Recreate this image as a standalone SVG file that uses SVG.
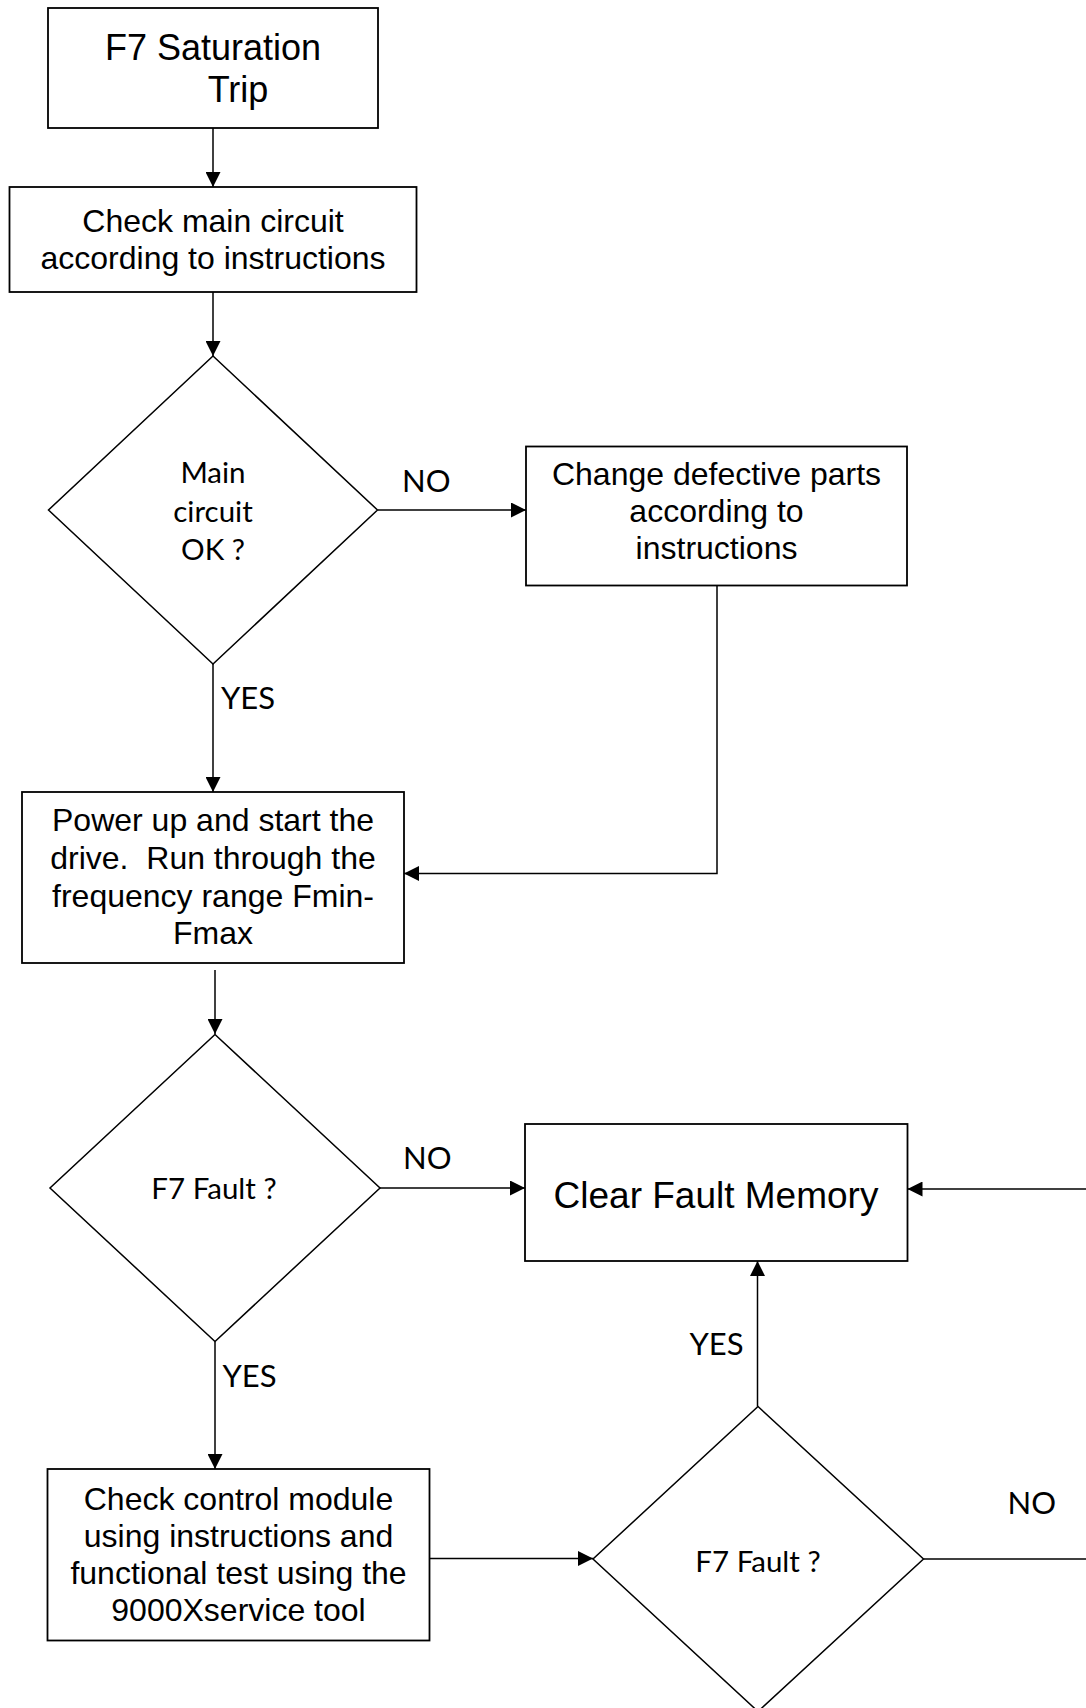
<svg xmlns="http://www.w3.org/2000/svg" width="1086" height="1708" viewBox="0 0 1086 1708">
  <style>
    .box { fill: #ffffff; stroke: #000000; stroke-width: 1.8; }
    .dia { fill: #ffffff; stroke: #000000; stroke-width: 1.5; }
    .conn { fill: none; stroke: #000000; stroke-width: 1.5; }
    .arr { marker-end: url(#arrow); }
    .t { font-family: "Liberation Sans", Arial, sans-serif; font-size: 32px; fill: #000000; text-anchor: middle; white-space: pre; }
    .c { font-family: Lato, "Open Sans", sans-serif; font-size: 29.5px; fill: #000000; text-anchor: middle; }
    .lbl { font-family: Lato, "Open Sans", sans-serif; font-size: 31px; fill: #000000; }
  </style>
  <defs>
    <marker id="arrow" viewBox="0 0 10 10" refX="10" refY="5" markerWidth="15" markerHeight="15" markerUnits="userSpaceOnUse" orient="auto">
      <path d="M0,0 L10,5 L0,10 z" fill="#000000"/>
    </marker>
  </defs>
  <rect width="1086" height="1708" fill="#ffffff"/>

  <g id="connectors">
    <line class="conn arr" x1="213" y1="128" x2="213" y2="187"/>
    <line class="conn arr" x1="213" y1="292" x2="213" y2="356"/>
    <line class="conn arr" x1="378" y1="510" x2="526" y2="510"/>
    <line class="conn arr" x1="213" y1="664" x2="213" y2="792"/>
    <polyline class="conn arr" points="717,585 717,873.5 404,873.5"/>
    <line class="conn arr" x1="215" y1="970" x2="215" y2="1034"/>
    <line class="conn arr" x1="380" y1="1188" x2="525" y2="1188"/>
    <line class="conn arr" x1="215" y1="1341.5" x2="215" y2="1469"/>
    <line class="conn arr" x1="429.5" y1="1558.5" x2="593" y2="1558.5"/>
    <line class="conn arr" x1="757.5" y1="1406.5" x2="757.5" y2="1261"/>
    <line class="conn" x1="923.5" y1="1559" x2="1090" y2="1559"/>
    <line class="conn arr" x1="1090" y1="1189" x2="907.5" y2="1189"/>
    <text class="lbl" x="402" y="491.5">NO</text>
    <text class="lbl" x="221" y="709">YES</text>
    <text class="lbl" x="403" y="1169">NO</text>
    <text class="lbl" x="222.5" y="1386.5">YES</text>
    <text class="lbl" x="689.5" y="1355">YES</text>
    <text class="lbl" x="1007.5" y="1514">NO</text>
  </g>

  <g id="start">
    <rect class="box" x="48" y="8" width="330" height="120"/>
    <text class="t" style="font-size:36px" x="213" y="60">F7 Saturation</text>
    <text class="t" style="font-size:36px" x="238" y="102">Trip</text>
  </g>

  <g id="check-main">
    <rect class="box" x="9.5" y="187" width="407" height="105"/>
    <text class="t" x="213" y="232">Check main circuit</text>
    <text class="t" x="213" y="269">according to instructions</text>
  </g>

  <g id="main-ok">
    <polygon class="dia" points="213,356 377.5,510 213,664 48.5,510"/>
    <text class="c" x="213" y="483">Main</text>
    <text class="c" x="213" y="521.5">circuit</text>
    <text class="c" x="213" y="559.5">OK ?</text>
  </g>

  <g id="change-parts">
    <rect class="box" x="526" y="446.5" width="381" height="139"/>
    <text class="t" x="716.5" y="485">Change defective parts</text>
    <text class="t" x="716.5" y="522">according to</text>
    <text class="t" x="716.5" y="559">instructions</text>
  </g>

  <g id="power-up">
    <rect class="box" x="22" y="792" width="382" height="171"/>
    <text class="t" x="213" y="831">Power up and start the</text>
    <text class="t" x="213" y="869">drive.  Run through the</text>
    <text class="t" x="213" y="906.5">frequency range Fmin-</text>
    <text class="t" x="213" y="943.5">Fmax</text>
  </g>

  <g id="fault1">
    <polygon class="dia" points="215,1034.5 380,1188 215,1341.5 50,1188"/>
    <text class="c" x="214" y="1199">F7 Fault ?</text>
  </g>

  <g id="clear-memory">
    <rect class="box" x="525" y="1124" width="382.5" height="137"/>
    <text class="t" style="font-size:37px" x="716" y="1207.5">Clear Fault Memory</text>
  </g>

  <g id="check-control">
    <rect class="box" x="47.5" y="1469" width="382" height="171.5"/>
    <text class="t" x="238.5" y="1510">Check control module</text>
    <text class="t" x="238.5" y="1546.5">using instructions and</text>
    <text class="t" x="238.5" y="1584">functional test using the</text>
    <text class="t" x="238.5" y="1620.5">9000Xservice tool</text>
  </g>

  <g id="fault2">
    <polygon class="dia" points="758,1406.5 923.5,1559 758,1711.5 593,1559"/>
    <text class="c" x="758" y="1571.5">F7 Fault ?</text>
  </g>
</svg>
